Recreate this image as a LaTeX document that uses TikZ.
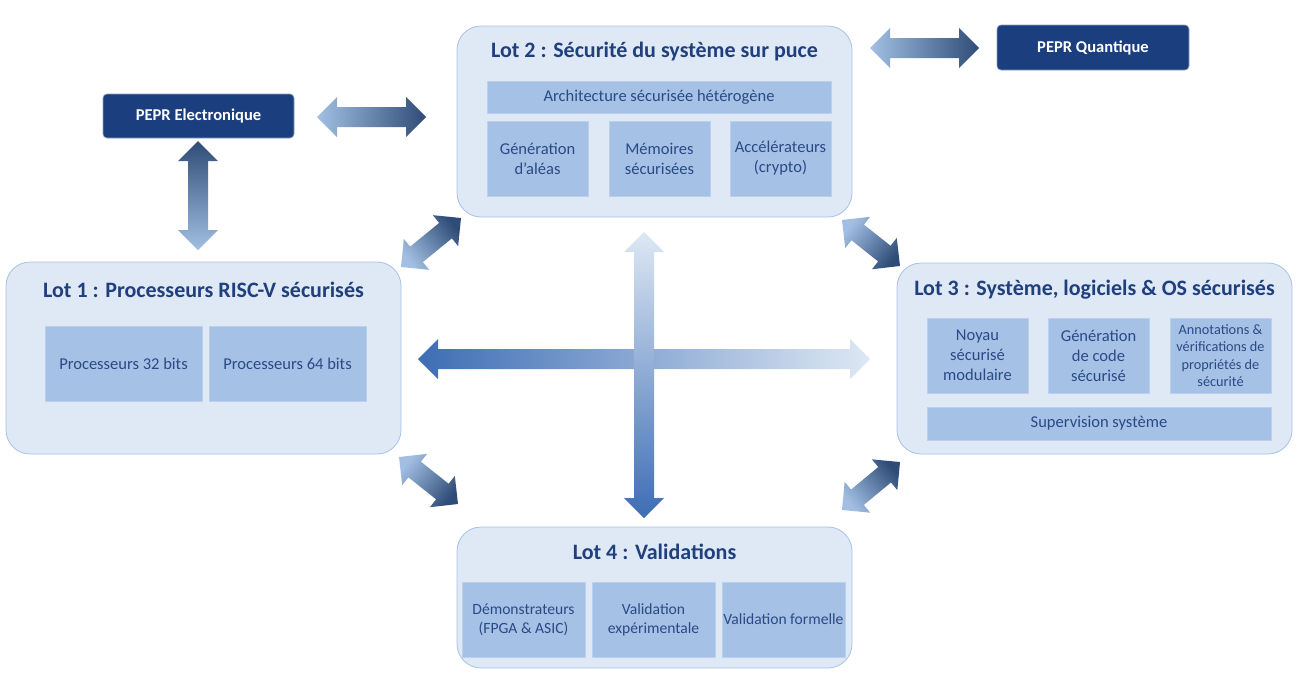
\documentclass[tikz,border=0pt]{standalone}
\usepackage{fontspec}
\setmainfont{Carlito}
\usetikzlibrary{calc,positioning}

\definecolor{lotfill}{HTML}{DFE8F5}
\definecolor{lotedge}{HTML}{A6C2E6}
\definecolor{subfill}{HTML}{A5C1E5}
\definecolor{subedge}{HTML}{BBD0EC}
\definecolor{subtext}{HTML}{2A4A86}
\definecolor{titleblue}{HTML}{1F3F7D}
\definecolor{peprblue}{HTML}{1B3E7E}
\definecolor{arrdark}{HTML}{2F4C78}
\definecolor{arrlight}{HTML}{A2BFE3}
\definecolor{bigdark}{HTML}{3D6DB4}
\definecolor{biglight}{HTML}{DEE8F4}

\def\u{0.75pt}
\def\arrhead{15pt}
\def\arrhalf{15pt}
\def\arrshaft{7.5pt}

% block arrow with two heads, shaded from #3 (at #1) to #4 (at #2)
\newcommand\blockarrow[4]{%
  \path let \p1=(#1), \p2=(#2) in
    \pgfextra{\pgfmathparse{atan2(\y2-\y1,\x2-\x1)-90}\xdef\arrang{\pgfmathresult}};
  \shade[bottom color=#3, top color=#4, shading angle=\arrang]
    (#1) -- ($(#1)!\arrhead!(#2)!\arrhalf!90:(#2)$) -- ($(#1)!\arrhead!(#2)!\arrshaft!90:(#2)$)
    -- ($(#2)!\arrhead!(#1)!\arrshaft!-90:(#1)$) -- ($(#2)!\arrhead!(#1)!\arrhalf!-90:(#1)$) -- (#2)
    -- ($(#2)!\arrhead!(#1)!\arrhalf!90:(#1)$) -- ($(#2)!\arrhead!(#1)!\arrshaft!90:(#1)$)
    -- ($(#1)!\arrhead!(#2)!\arrshaft!-90:(#2)$) -- ($(#1)!\arrhead!(#2)!\arrhalf!-90:(#2)$) -- cycle;
}

\tikzset{
  lotbox/.style={draw=lotedge, fill=lotfill, line width=0.6pt, rounded corners=18pt},
  lottitle/.style={text=titleblue, font=\bfseries\fontsize{16.5}{19}\selectfont},
  subbox/.style={draw=subedge, fill=subfill, line width=0.5pt, text=subtext, align=center,
    inner sep=1pt, font=\fontsize{12.4}{15}\selectfont},
  pepr/.style={draw=peprblue!50, fill=peprblue, line width=0.5pt, rounded corners=3pt,
    text=white, font=\bfseries\fontsize{12.4}{14}\selectfont}
}

\begin{document}
\begin{tikzpicture}[x=0.75pt,y=-0.75pt]
\useasboundingbox (0,0) rectangle (1302,690);
% Lot 2
\node[lotbox, minimum width=395*\u, minimum height=191*\u] (lot2) at (654.5,121.5) {};
\node[lottitle] (t2) at (654.5,52) {Lot 2 : Sécurité du système sur puce};
\node[subbox, minimum width=344*\u, minimum height=32*\u] (archi) at (659,97) {Architecture sécurisée hétérogène};
\node[subbox, minimum width=101*\u, minimum height=75*\u] (alea) at (537.5,158.5) {Génération\\d’aléas};
\node[subbox, minimum width=101*\u, minimum height=75*\u] (mem) at (659.5,158.5) {Mémoires\\sécurisées};
\node[subbox, minimum width=101*\u, minimum height=75*\u] (accel) at (780.5,158.5) {Accélérateurs\\(crypto)};
%
% Lot 1
\node[lotbox, minimum width=395*\u, minimum height=192*\u] (lot1) at (203.5,358) {};
\node[lottitle] (t1) at (203.5,290) {Lot 1 : Processeurs RISC-V sécurisés};
\node[subbox, minimum width=157*\u, minimum height=75*\u] (p32) at (123.5,363.5) {Processeurs 32 bits};
\node[subbox, minimum width=157*\u, minimum height=75*\u] (p64) at (287.5,363.5) {Processeurs 64 bits};
%
% Lot 3
\node[lotbox, minimum width=395*\u, minimum height=191*\u] (lot3) at (1094.5,358.5) {};
\node[lottitle] (t3) at (1094.5,290) {Lot 3 : Système, logiciels \& OS sécurisés};
\node[subbox, minimum width=101*\u, minimum height=75*\u] (noyau) at (977.5,355.5) {Noyau\\sécurisé\\modulaire};
\node[subbox, minimum width=101*\u, minimum height=75*\u] (gencode) at (1098.5,355.5) {Génération\\de code\\sécurisé};
\node[subbox, minimum width=101*\u, minimum height=75*\u, font=\fontsize{10.7}{13}\selectfont] (annot) at (1220.5,355.5) {Annotations \&\\vérifications de\\propriétés de\\sécurité};
\node[subbox, minimum width=344*\u, minimum height=33*\u] (superv) at (1099,423.5) {Supervision système};
%
% Lot 4
\node[lotbox, minimum width=395*\u, minimum height=141*\u] (lot4) at (654.5,597.5) {};
\node[lottitle] (t4) at (654.5,552) {Lot 4 : Validations};
\node[subbox, minimum width=123*\u, minimum height=75*\u, font=\fontsize{11.7}{14}\selectfont] (demo) at (523.5,619.5) {Démonstrateurs\\(FPGA \& ASIC)};
\node[subbox, minimum width=123*\u, minimum height=75*\u, font=\fontsize{11.7}{14}\selectfont] (vexp) at (653.5,619.5) {Validation\\expérimentale};
\node[subbox, minimum width=123*\u, minimum height=75*\u, font=\fontsize{11.7}{14}\selectfont] (vform) at (783.5,619.5) {Validation formelle};
%
% PEPR
\node[pepr, minimum width=191*\u, minimum height=44*\u] (pelec) at (198.5,116) {PEPR Electronique};
\node[pepr, minimum width=192*\u, minimum height=45*\u] (pquant) at (1093,47.5) {PEPR Quantique};
%
% arrow ends
\coordinate (eA) at (317,117);  \coordinate (eB) at (426,117);
\coordinate (qA) at (870,48);   \coordinate (qB) at (979,48);
\coordinate (vA) at (198,250);  \coordinate (vB) at (198,141);
\coordinate (d1A) at (401,267); \coordinate (d1B) at (461,218);
\coordinate (d2A) at (842,220); \coordinate (d2B) at (900,266);
\coordinate (d3A) at (399,457); \coordinate (d3B) at (458,504);
\coordinate (d4A) at (842,510); \coordinate (d4B) at (900,462);
\coordinate (hA) at (418,359);  \coordinate (hB) at (870,359);
\coordinate (cA) at (644,232);  \coordinate (cB) at (644,518);
%
\blockarrow{eA}{eB}{arrlight}{arrdark}
\blockarrow{qA}{qB}{arrlight}{arrdark}
\blockarrow{vA}{vB}{arrlight}{arrdark}
\blockarrow{d1A}{d1B}{arrlight}{arrdark}
\blockarrow{d2A}{d2B}{arrlight}{arrdark}
\blockarrow{d3A}{d3B}{arrlight}{arrdark}
\blockarrow{d4A}{d4B}{arrlight}{arrdark}
\blockarrow{hA}{hB}{bigdark}{biglight}
\blockarrow{cA}{cB}{biglight}{bigdark}
\end{tikzpicture}
\end{document}
